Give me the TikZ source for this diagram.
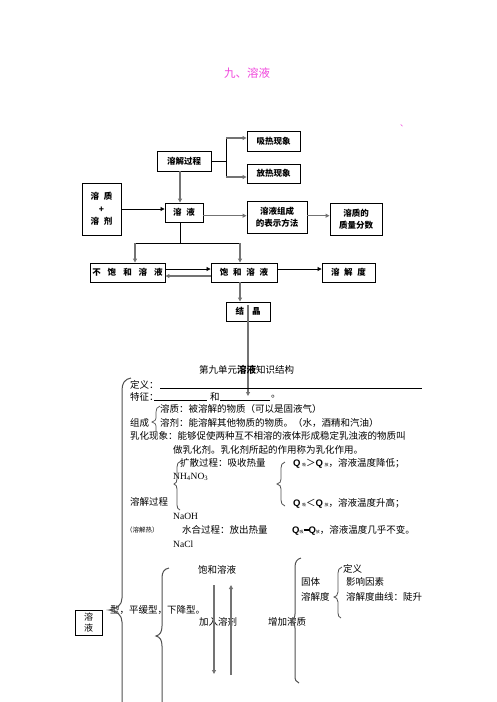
\documentclass[tikz,border=0pt]{standalone}
\usepackage{fontspec}
\setmainfont{Liberation Serif}
\setsansfont{Liberation Sans}
\newfontfamily\cjk{Noto Sans CJK SC}
\usetikzlibrary{arrows.meta}
\definecolor{ttl}{RGB}{240,70,220}
\definecolor{arr}{RGB}{115,115,115}
\newcommand\gp[1]{\hspace{#1pt}}
\newcommand\Qx{{\sffamily\bfseries Q}}
\newcommand\sbx[1]{{\cjk\fontsize{4}{4}\selectfont #1}}
\begin{document}
\begin{tikzpicture}[x=1pt,y=-1pt,
 bx/.style={draw,line width=0.9pt,inner sep=0pt,font=\cjk\bfseries\fontsize{8.5}{11}\selectfont,align=center},
 ga/.style={draw=arr,line width=1.3pt,-{Triangle[length=4pt,width=4pt]}},
 bl/.style={draw=black,line width=0.8pt},
 ba/.style={bl,-{Triangle[length=4pt,width=4pt]}},
 tx/.style={anchor=west,inner sep=0pt,font=\cjk\fontsize{9.5}{11}\selectfont},
 rm/.style={font=\rmfamily\fontsize{9.5}{11}\selectfont},
 brc/.style={draw=arr!70!black,line width=1pt}
]
\useasboundingbox (0,0) rectangle (496,702);
% ---------- title ----------
\node[font=\cjk\fontsize{11.5}{13}\selectfont,text=ttl] (title) at (247,73) {九、溶液};
\node[font=\cjk\fontsize{8}{9}\selectfont,text=ttl] (tick) at (404,126) {、};
% ---------- boxes ----------
\node[bx,minimum width=53pt,minimum height=20pt] (xr) at (273.5,141) {吸热现象};
\node[bx,minimum width=53pt,minimum height=19pt] (fr) at (273.5,173.5) {放热现象};
\node[bx,minimum width=54pt,minimum height=20pt] (rjgc) at (184,161) {溶解过程};
\node[bx,minimum width=39pt,minimum height=52pt,font=\cjk\bfseries\fontsize{8.5}{12.5}\selectfont] (rzj) at (101.5,209) {溶\gp{5}质\\+\\溶\gp{5}剂};
\node[bx,minimum width=38pt,minimum height=19pt] (ry) at (184,212.5) {溶\gp{5}液};
\node[bx,minimum width=60pt,minimum height=32pt,font=\cjk\bfseries\fontsize{8.5}{11.7}\selectfont] (zc) at (277,217) {溶液组成\\的表示方法};
\node[bx,minimum width=52pt,minimum height=32pt,font=\cjk\bfseries\fontsize{8.5}{12.3}\selectfont] (zl) at (356,219) {溶质的\\质量分数};
\node[bx,minimum width=75pt,minimum height=19pt] (bbh) at (127.5,272.5) {不\gp{7}饱\gp{7}和\gp{7}溶\gp{7}液};
\node[bx,minimum width=66pt,minimum height=19pt] (bh) at (244,272.5) {饱\gp{4.7}和\gp{4.7}溶\gp{4.7}液};
\node[bx,minimum width=53pt,minimum height=19pt] (rjd) at (348.5,272.5) {溶\gp{4.7}解\gp{4.7}度};
\node[bx,minimum width=44pt,minimum height=19pt] (jj) at (248,311.5) {结\gp{8}晶};
% ---------- connectors ----------
\coordinate (j1) at (226,161);
\coordinate (j2) at (226,138);
\coordinate (j3) at (226,177);
\draw[bl] (rjgc.east) -- (j1);
\draw[bl] (j2) -- (j3);
\draw[ga] (j2) -- (xr.west |- j2);
\draw[ga] (j3) -- (fr.west |- j3);
\coordinate (v1) at (180,171);
\draw[ga] (v1) -- (v1 |- ry.north);
\draw[ba] (rzj.east) -- (ry.west |- rzj.east);
\coordinate (h1) at (203,215.7);
\draw[ga] (h1) -- (zc.west |- h1);
\draw[ga] (zc.east |- h1) -- (zl.west |- h1);
\coordinate (v2) at (180,222);
\coordinate (v3) at (180,243);
\coordinate (b1) at (135,243);
\coordinate (b2) at (240,243);
\draw[bl] (v2) -- (v3);
\draw[bl] (b1) -- (b2);
\draw[ga] (b1) -- (b1 |- bbh.north);
\draw[ga] (b2) -- (b2 |- bh.north);
\coordinate (r1) at (165,269);
\coordinate (r2) at (211,276);
\draw[ba] (r1) -- (bh.west |- r1);
\draw[ga] (r2) -- (bbh.east |- r2);
\draw[ba] (bh.east |- r1) -- (rjd.west |- r1);
\coordinate (d1) at (240,282);
\draw[ga] (d1) -- (d1 |- jj.north);
\coordinate (g1) at (248,305);
\coordinate (g2) at (248,396);
\draw[ga] (g1) -- (g2);
% ---------- knowledge structure ----------
\node[tx] (kt) at (199,370) {第九单元\textbf{溶液}知识结构};
\node[tx] (dy) at (130,385) {定义：};
\coordinate (dl1) at (160,388); \coordinate (dl2) at (422,388);
\draw[bl] (dl1) -- (dl2);
\node[tx] (tz) at (130,397) {特征：};
\coordinate (tl1) at (154,400); \coordinate (tl2) at (207,400);
\coordinate (tl3) at (220,400); \coordinate (tl4) at (270,400);
\draw[bl] (tl1) -- (tl2);
\draw[bl] (tl3) -- (tl4);
\node[tx] (he) at (210,397) {和};
\node[tx] (dot) at (271,397) {。};
\node[tx] (rz) at (160,409) {溶质：被溶解的物质（可以是固液气）};
\node[tx] (zcx) at (130,423) {组成};
\node[tx] (rjx) at (160,423) {溶剂：能溶解其他物质的物质。（水，酒精和汽油）};
\node[tx] (rh) at (130,436) {乳化现象：能够促使两种互不相溶的液体形成稳定乳浊液的物质叫};
\node[tx] (rh2) at (173,450) {做乳化剂。乳化剂所起的作用称为乳化作用。};
\node[tx] (ks) at (180,463) {扩散过程：吸收热量};
\node[tx] (q1) at (293,463) {\Qx\,\sbx{吸}＞\Qx\,\sbx{放}，溶液温度降低；};
\node[tx,rm] (nh) at (173,477) {NH\textsubscript{4}NO\textsubscript{3}};
\node[tx] (rjgcx) at (130,502) {溶解过程};
\node[tx] (q2) at (293,503) {\Qx\,\sbx{吸}＜\Qx\,\sbx{放}，溶液温度升高；};
\node[tx,rm] (naoh) at (173,516) {NaOH};
\node[tx,font=\cjk\fontsize{6.5}{8}\selectfont] (rjr) at (126,530) {（溶解热）};
\node[tx] (sh) at (182,530) {水合过程：放出热量};
\node[tx] (q3) at (292,530) {\Qx\sbx{吸}\rule[2.5pt]{5pt}{1.6pt}\Qx\sbx{放}，溶液温度几乎不变。};
\node[tx,rm] (nacl) at (173,544) {NaCl};
\node[tx] (bhry) at (198,570) {饱和溶液};
\node[tx] (xing) at (110,610) {型，平缓型，下降型。};
\node[tx] (jr) at (199,622) {加入溶剂};
\node[tx] (zj) at (268,622) {增加溶质};
\node[tx] (gt) at (301,582) {固体};
\node[tx] (rjdx) at (301,597) {溶解度};
\node[tx] (dy2) at (343,569) {定义};
\node[tx] (yx) at (346,582) {影响因素};
\node[tx] (qx) at (346,597) {溶解度曲线：陡升};
\node[draw,line width=0.8pt,minimum width=27pt,minimum height=25pt,inner sep=0pt,align=center,font=\cjk\fontsize{9}{11}\selectfont] (rybox) at (88.5,622.5) {溶\\液};
% arrows between saturated / unsaturated
\coordinate (a1) at (214,585); \coordinate (a2) at (214,674);
\coordinate (a3) at (231,675); \coordinate (a4) at (231,585);
\draw[ga] (a1) -- (a2);
\draw[ga] (a3) -- (a4);
% ---------- braces ----------
\draw[brc] (131,378) .. controls (125,379) and (122,383) .. (122,390) -- (122,598) .. controls (122,605) and (117,609) .. (109,610) .. controls (117,611) and (122,615) .. (122,622) -- (122,702);
\draw[brc] (169,568) .. controls (164,569) and (162,572) .. (162,578) -- (162,626) .. controls (162,632) and (160,635) .. (156,636) .. controls (160,637) and (162,640) .. (162,646) -- (162,702);
\draw[brc] (301,558) .. controls (297,559) and (295,562) .. (295,567) -- (295,614) .. controls (295,618) and (293,620) .. (291,621) .. controls (293,622) and (295,624) .. (295,628) -- (295,676) .. controls (295,680) and (296,682) .. (299,683);
\draw[brc,line width=0.8pt] (342,567) .. controls (339,568) and (338,570) .. (338,573) -- (338,592) .. controls (338,595) and (336,597) .. (334,597) .. controls (336,597) and (338,599) .. (338,602) -- (338,613) .. controls (338,616) and (339,617) .. (341,618);
\draw[brc,line width=0.7pt] (160,406) .. controls (157,407) and (156,409) .. (156,412) -- (156,418) .. controls (156,420) and (155,421) .. (152,422) .. controls (155,423) and (156,424) .. (156,426) -- (156,432);
\draw[brc,line width=0.8pt] (181,461) .. controls (178,462) and (177,464) .. (177,467) -- (177,479) .. controls (177,482) and (176,483) .. (174,484) .. controls (176,485) and (177,486) .. (177,489) -- (177,505) .. controls (177,508) and (178,509) .. (180,510);
\draw[brc,line width=0.8pt] (285,462) .. controls (282,463) and (281,465) .. (281,468) -- (281,479) .. controls (281,482) and (280,483) .. (277,484) .. controls (280,485) and (281,486) .. (281,489) -- (281,500) .. controls (281,503) and (282,505) .. (285,506);
\end{tikzpicture}
\end{document}
